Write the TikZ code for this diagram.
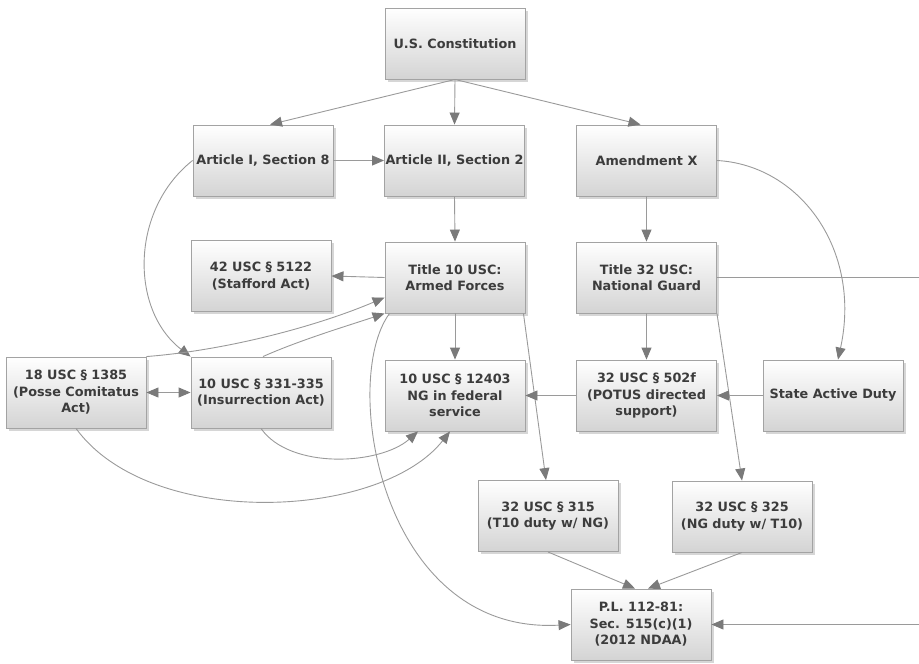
\documentclass[tikz,border=0pt]{standalone}
\usepackage{fontspec}
\setmainfont{DejaVu Sans}
\usetikzlibrary{arrows.meta,shadows}
\definecolor{txt}{HTML}{3C3C3C}
\definecolor{edge}{HTML}{9A9A9A}
\definecolor{tip}{HTML}{7A7A7A}
\definecolor{bord}{HTML}{A3A3A3}
\tikzset{
 box/.style={draw=bord, line width=0.9pt, top color=white, bottom color=black!17,
   minimum width=140pt, minimum height=71pt, inner sep=0pt, align=center,
   font=\fontsize{12.8}{16.5}\selectfont\bfseries, text=txt,
   drop shadow={shadow xshift=2.5pt, shadow yshift=-2.5pt, fill=black!40, opacity=0.4}},
 tipstyle/.style={},
 arr/.style={draw=edge, line width=0.9pt, -{Triangle[length=12pt,width=10pt,color=tip]}},
 arrb/.style={draw=edge, line width=0.9pt, {Triangle[length=12pt,width=10pt,color=tip]}-{Triangle[length=12pt,width=10pt,color=tip]}},
 plainline/.style={draw=edge, line width=0.9pt}
}
\begin{document}
\begin{tikzpicture}[x=1pt,y=-1pt]
\useasboundingbox (0,0) rectangle (919,664);
\node[box] (const) at (455,43.5) {U.S. Constitution};
\node[box] (art1) at (263,160.5) {Article I, Section 8};
\node[box] (art2) at (454.5,160.5) {Article II, Section 2};
\node[box] (amx) at (646.5,160.5) {Amendment X};
\node[box] (stafford) at (261,276) {42 USC § 5122\\(Stafford Act)};
\node[box] (t10) at (455,277.5) {Title 10 USC:\\Armed Forces};
\node[box] (t32) at (646.5,277.5) {Title 32 USC:\\National Guard};
\node[box] (posse) at (76,392.5) {18 USC § 1385\\(Posse Comitatus\\Act)};
\node[box] (insur) at (261,392.5) {10 USC § 331-335\\(Insurrection Act)};
\node[box] (ng) at (455,395.5) {10 USC § 12403\\NG in federal\\service};
\node[box] (p502) at (646.5,395.5) {32 USC § 502f\\(POTUS directed\\support)};
\node[box] (sad) at (833,395.5) {State Active Duty};
\node[box] (s315) at (548,516) {32 USC § 315\\(T10 duty w/ NG)};
\node[box] (s325) at (742,516.5) {32 USC § 325\\(NG duty w/ T10)};
\node[box] (pl) at (641,624.5) {P.L. 112-81:\\Sec. 515(c)(1)\\(2012 NDAA)};
\coordinate (r1) at (919,277.5);
\coordinate (r2) at (919,624.5);

\draw[arr] (const.south) -- ([xshift=7pt]art1.north);
\draw[arr] (const.south) -- (art2.north);
\draw[arr] (const.south) -- ([xshift=-6pt]amx.north);
\draw[arr] (art1.east) -- (art2.west);
\draw[arr] (art1.west) .. controls (130,210) and (130,310) .. (insur.north west);
\draw[arr] (amx.east) .. controls (800,165) and (862,250) .. ([xshift=5pt]sad.north);
\draw[arr] (t10.west) -- (stafford.east);
\draw[arr] (art2.south) -- (t10.north);
\draw[arr] (amx.south) -- (t32.north);
\draw[arr] (t10.south) -- (ng.north);
\draw[arr] (t32.south) -- (p502.north);
\draw[arr] ([xshift=-2pt]t10.south east) -- ([xshift=-2pt]s315.north);
\draw[arr] (t32.south east) -- (s325.north);
\draw[plainline] (t32.east) -- (r1);
\draw[arr] (p502.west) -- (ng.east);
\draw[arr] (sad.west) -- (p502.east);
\draw[arrb] (posse.east) -- (insur.west);
\draw[arr] (posse.north east) .. controls (230,350) and (320,325) .. ([yshift=-20pt]t10.west);
\draw[arr] ([xshift=2pt]insur.north) .. controls (300,340) and (350,325) .. (t10.south west);
\draw[arr] ([xshift=5pt]t10.south west) .. controls (340,380) and (380,635) .. (pl.west);
\draw[arr] (insur.south) .. controls (290,470) and (380,465) .. ([xshift=-37pt]ng.south);
\draw[arr] (posse.south) .. controls (150,530) and (380,520) .. ([xshift=-5pt]ng.south);
\draw[arr] (s315.south) -- ([xshift=-6pt]pl.north);
\draw[arr] (s325.south) -- ([xshift=7pt]pl.north);
\draw[arr] (r2) -- (pl.east);
\end{tikzpicture}
\end{document}
